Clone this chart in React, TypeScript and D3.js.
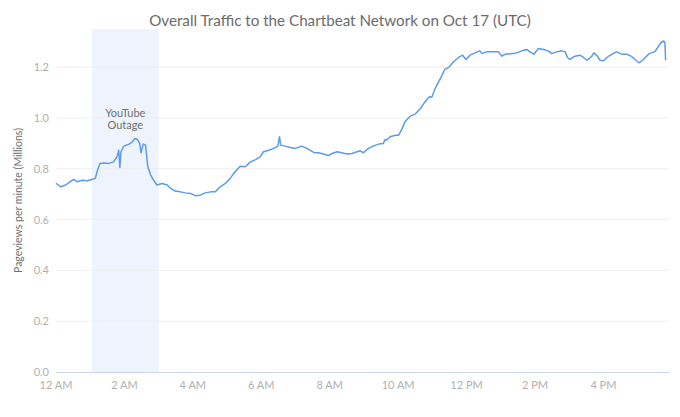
import * as d3 from "d3";

// minutes after midnight (UTC)
const minutes = [
  0, 8, 17, 25, 31, 37, 46, 55, 63, 69, 72, 77, 84, 93, 101, 107, 110, 112, 114, 119,
  128, 134, 138, 143, 147, 149, 153, 157, 161, 166, 171, 177, 186, 195,
  201, 209, 218, 227, 236, 244, 253, 262, 271, 279, 288, 297, 306, 314, 323, 332,
  341, 350, 358, 364, 373, 382, 389, 392, 394, 402, 411,
  420, 431, 440, 452, 460, 469, 478, 484, 493, 501, 510, 519, 528, 533, 539, 548,
  557, 566, 574, 577, 580, 586, 595, 601, 607,
  612, 621, 630, 639, 647, 655, 659, 665, 674, 682, 690, 697, 706, 713, 719, 726,
  735, 743, 747, 755, 767, 776, 782, 788, 799, 808, 817, 826,
  831, 838, 846, 855, 863, 869, 878, 887, 893, 897, 901, 910, 919, 925, 931, 939,
  943, 948, 954, 960, 968, 977, 983, 992, 1001, 1010, 1018, 1023, 1030, 1039, 1044,
  1050, 1056, 1062, 1066, 1068, 1069,
];

// pageviews per minute, millions
const pageviews = [
  0.743, 0.729, 0.736, 0.749, 0.758, 0.749, 0.755, 0.753, 0.758, 0.762, 0.788, 0.821, 0.823, 0.821, 0.827, 0.847, 0.873, 0.805, 0.867, 0.889,
  0.897, 0.906, 0.919, 0.915, 0.899, 0.863, 0.897, 0.893, 0.808, 0.775, 0.755, 0.736, 0.742, 0.736,
  0.723, 0.712, 0.709, 0.705, 0.703, 0.694, 0.696, 0.705, 0.709, 0.709, 0.729, 0.742, 0.764, 0.788, 0.81, 0.808,
  0.827, 0.836, 0.847, 0.867, 0.873, 0.88, 0.889, 0.926, 0.893, 0.889, 0.884,
  0.88, 0.889, 0.88, 0.864, 0.863, 0.858, 0.852, 0.86, 0.867, 0.863, 0.858, 0.86, 0.867, 0.871, 0.863, 0.88,
  0.89, 0.897, 0.899, 0.915, 0.913, 0.926, 0.932, 0.932, 0.958,
  0.985, 1.007, 1.015, 1.037, 1.063, 1.083, 1.081, 1.116, 1.155, 1.191, 1.201, 1.221, 1.238, 1.247, 1.23, 1.247,
  1.256, 1.264, 1.253, 1.26, 1.26, 1.26, 1.243, 1.251, 1.253, 1.256, 1.264, 1.269,
  1.26, 1.251, 1.273, 1.269, 1.264, 1.253, 1.26, 1.264, 1.26, 1.238, 1.23, 1.243, 1.247, 1.238, 1.227, 1.241,
  1.256, 1.247, 1.227, 1.225, 1.241, 1.253, 1.26, 1.251, 1.251, 1.241, 1.225, 1.217, 1.23, 1.251, 1.256,
  1.26, 1.28, 1.299, 1.303, 1.293, 1.227,
];

const xTicks = [0, 120, 240, 360, 480, 600, 720, 840, 960];
const xTickLabels = ["12 AM", "2 AM", "4 AM", "6 AM", "8 AM", "10 AM", "12 PM", "2 PM", "4 PM"];
const yTicks = [0, 0.2, 0.4, 0.6, 0.8, 1.0, 1.2];

const outage = [63, 180];
const outageLabel = ["YouTube", "Outage"];

const W = 680;
const H = 417;
const left = 56;
const right = 669;
const top = 29;
const bottom = 372;
const font = "Lato, 'Open Sans', sans-serif";

export default function App() {
  const x = d3.scaleLinear().domain([0, 1075]).range([left, right]);
  const y = d3.scaleLinear().domain([0, 1.35]).range([bottom, top]);

  const line = d3
    .line<number>()
    .x((_, i) => x(minutes[i]))
    .y((d) => y(d));

  return (
    <svg
      width={W}
      height={H}
      style={{ position: "absolute", left: 0, top: 0, background: "#fff" }}
      fontFamily={font}
    >
      {/* outage band */}
      <rect
        x={x(outage[0])}
        y={top}
        width={x(outage[1]) - x(outage[0])}
        height={bottom - top}
        fill="#eef3fd"
      />

      {/* grid */}
      {yTicks.slice(1).map((t) => (
        <line key={t} x1={left} x2={right} y1={y(t)} y2={y(t)} stroke="#efefef" strokeWidth={1} />
      ))}
      <line x1={left} x2={right} y1={bottom + 0.5} y2={bottom + 0.5} stroke="#ccd6eb" strokeWidth={1} />

      {/* y labels */}
      {yTicks.map((t) => (
        <text key={t} x={49} y={y(t) + 4} textAnchor="end" fontSize={11} fill="#b0b0b0">
          {t.toFixed(1)}
        </text>
      ))}

      {/* x labels */}
      {xTicks.map((t, i) => (
        <text key={t} x={x(t)} y={389} textAnchor="middle" fontSize={11} fill="#b0b0b0">
          {xTickLabels[i]}
        </text>
      ))}

      <text
        transform={`translate(22, ${(top + bottom) / 2}) rotate(-90)`}
        textAnchor="middle"
        fontSize={10.5}
        fill="#707070"
      >
        Pageviews per minute (Millions)
      </text>

      <text x={340} y={26} textAnchor="middle" fontSize={15.2} fill="#6b6b6b">
        Overall Traffic to the Chartbeat Network on Oct 17 (UTC)
      </text>

      {outageLabel.map((s, i) => (
        <text
          key={s}
          x={(x(outage[0]) + x(outage[1])) / 2}
          y={117 + i * 12}
          textAnchor="middle"
          fontSize={11}
          fill="#707070"
        >
          {s}
        </text>
      ))}

      <path d={line(pageviews) ?? ""} fill="none" stroke="#5a9bea" strokeWidth={1.5} strokeLinejoin="round" />
    </svg>
  );
}
